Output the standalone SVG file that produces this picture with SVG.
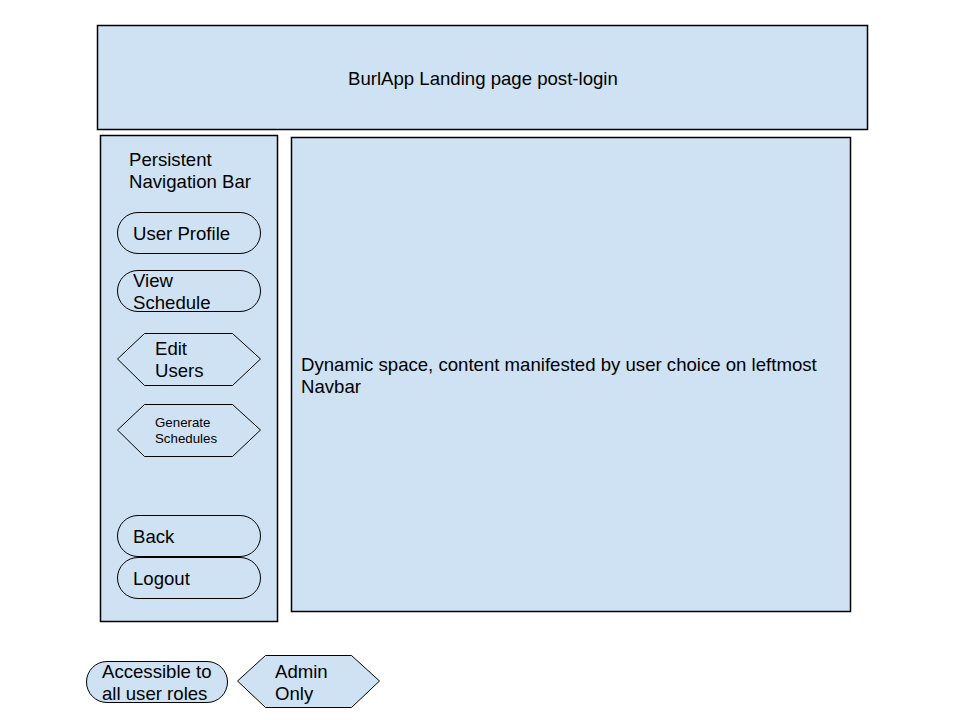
<svg xmlns="http://www.w3.org/2000/svg" width="960" height="720" viewBox="0 0 960 720">
<style>
.box{fill:#cfe2f3;stroke:#000;stroke-width:1.5}
.btn{fill:none;stroke:#000;stroke-width:1}
.leg{fill:#cfe2f3;stroke:#000;stroke-width:1}
text{font-family:"Liberation Sans",Arial,sans-serif;fill:#000;font-size:18.6px}
.sm{font-size:13.3px}
</style>
<rect width="960" height="720" fill="#fff"/>
<g id="header">
<rect class="box" x="97.5" y="25.5" width="770" height="104"/>
<text x="348" y="85">BurlApp Landing page post-login</text>
</g>
<g id="navbar">
<rect class="box" x="100.5" y="135.5" width="177" height="486"/>
<text x="129" y="166">Persistent</text>
<text x="129" y="188">Navigation Bar</text>
</g>
<g id="main">
<rect class="box" x="291.5" y="137.5" width="559" height="474"/>
<text x="301" y="371">Dynamic space, content manifested by user choice on leftmost</text>
<text x="301" y="393">Navbar</text>
</g>
<g id="user-profile">
<rect class="btn" x="117.5" y="212.5" width="143" height="41" rx="20.5"/>
<text x="133" y="240">User Profile</text>
</g>
<g id="view-schedule">
<rect class="btn" x="117.5" y="270.5" width="143" height="41" rx="20.5"/>
<text x="133" y="287">View</text>
<text x="133" y="309">Schedule</text>
</g>
<g id="edit-users">
<polygon class="btn" points="117.5,359 144.5,333.5 232.5,333.5 260.5,359 232.5,385.5 144.5,385.5"/>
<text x="155" y="355">Edit</text>
<text x="155" y="377">Users</text>
</g>
<g id="generate-schedules">
<polygon class="btn" points="117.5,430 144.5,404.5 232.5,404.5 260.5,430 232.5,456.5 144.5,456.5"/>
<text class="sm" x="155" y="427">Generate</text>
<text class="sm" x="155" y="443">Schedules</text>
</g>
<g id="back">
<rect class="btn" x="117.5" y="515.5" width="143" height="41" rx="20.5"/>
<text x="133" y="543">Back</text>
</g>
<g id="logout">
<rect class="btn" x="117.5" y="557.5" width="143" height="41" rx="20.5"/>
<text x="133" y="585">Logout</text>
</g>
<g id="legend-all">
<rect class="leg" x="86.5" y="661.5" width="141" height="41" rx="20.5"/>
<text x="102" y="678">Accessible to</text>
<text x="102" y="700">all user roles</text>
</g>
<g id="legend-admin">
<polygon class="leg" points="237.5,681 265.5,655.5 351.5,655.5 379.5,681 351.5,707.5 265.5,707.5"/>
<text x="275" y="678">Admin</text>
<text x="275" y="700">Only</text>
</g>
<g id="connectors"></g>
</svg>
